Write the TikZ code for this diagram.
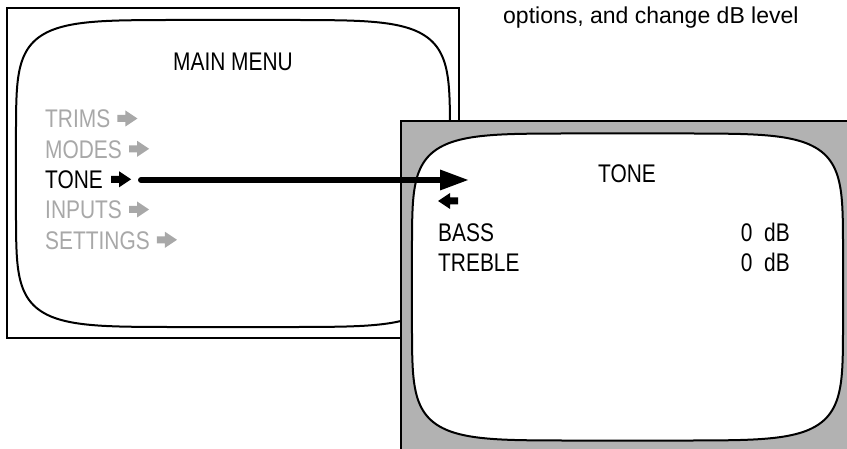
\documentclass[tikz,border=0pt]{standalone}
\usepackage{fontspec}
\setmainfont{Liberation Sans}
\newfontfamily\narrowfont[FakeStretch=0.82]{Liberation Sans}
\usetikzlibrary{arrows.meta}
\definecolor{boxgray}{RGB}{178,178,178}
\definecolor{menugray}{RGB}{168,168,168}
\newcommand\crtscreen[4]{%
  \draw[crtline] plot[domain=0.5:359.5,samples=360,variable=\t]
    ({#1+#3*sign(cos(\t))*pow(abs(cos(\t)),1/3)},{#2+#4*sign(sin(\t))*pow(abs(sin(\t)),1/3)}) -- cycle;}
\tikzset{
  boxline/.style={draw=black,line width=2pt},
  crtline/.style={draw=black,line width=2pt,fill=white},
  menutext/.style={font=\narrowfont\fontsize{25.5}{30}\selectfont,inner sep=0pt,anchor=base west},
  graytext/.style={menutext,text=menugray},
  rarr/.pic={\fill (0,-3.5)--(8,-3.5)--(8,-8)--(20,0)--(8,8)--(8,3.5)--(0,3.5)--cycle;},
  bigarrow/.style={line width=6pt,line cap=round,-{Triangle[length=28pt,width=21pt,line width=0pt]}},
}
\begin{document}
\begin{tikzpicture}[x=1pt,y=-1pt]
\useasboundingbox (0,0) rectangle (847,449);
\fill[white] (0,0) rectangle (847,449);
% left panel
\draw[boxline,fill=white] (7,8) rectangle (459,338);
\crtscreen{233}{173.5}{217}{153.5}
\node[menutext,anchor=base] (main) at (233,71) {MAIN MENU};
\node[graytext] (trims) at (45,128) {TRIMS};
\node[graytext] (modes) at (45,158.3) {MODES};
\node[menutext] (tone) at (45,188.3) {TONE};
\node[graytext] (inputs) at (45,219) {INPUTS};
\node[graytext] (settings) at (45,249.3) {SETTINGS};
\pic[fill=menugray] at ([xshift=7pt,yshift=9.5pt]trims.base east) {rarr};
\pic[fill=menugray] at ([xshift=7pt,yshift=9.5pt]modes.base east) {rarr};
\pic[fill=black] at ([xshift=8pt,yshift=9pt]tone.base east) {rarr};
\pic[fill=menugray] at ([xshift=7pt,yshift=9.5pt]inputs.base east) {rarr};
\pic[fill=menugray] at ([xshift=7pt,yshift=9.5pt]settings.base east) {rarr};
% right panel
\fill[boxgray] (401,121) rectangle (847,449);
\draw[boxline] (401,449) -- (401,121) -- (847,121);
\crtscreen{627.5}{287}{215.5}{153.5}
\node[menutext,anchor=base] (tonetitle) at (627,183) {TONE};
\pic[fill=black,rotate=180] at (458,201) {rarr};
\node[menutext] (bass) at (438,242) {BASS};
\node[menutext] (treble) at (438,272) {TREBLE};
\node[menutext,anchor=base east] (bassval) at (790,242) {0~~dB};
\node[menutext,anchor=base east] (trebleval) at (790,272) {0~~dB};
% caption fragment
\node[font=\fontsize{23}{28}\selectfont,inner sep=0pt,anchor=base west] (note) at (503,24) {options, and change dB level};
% connector
\coordinate (linestart) at (141,180);
\coordinate (lineend) at (468,180);
\draw[bigarrow] (linestart) -- (lineend);
\end{tikzpicture}
\end{document}
